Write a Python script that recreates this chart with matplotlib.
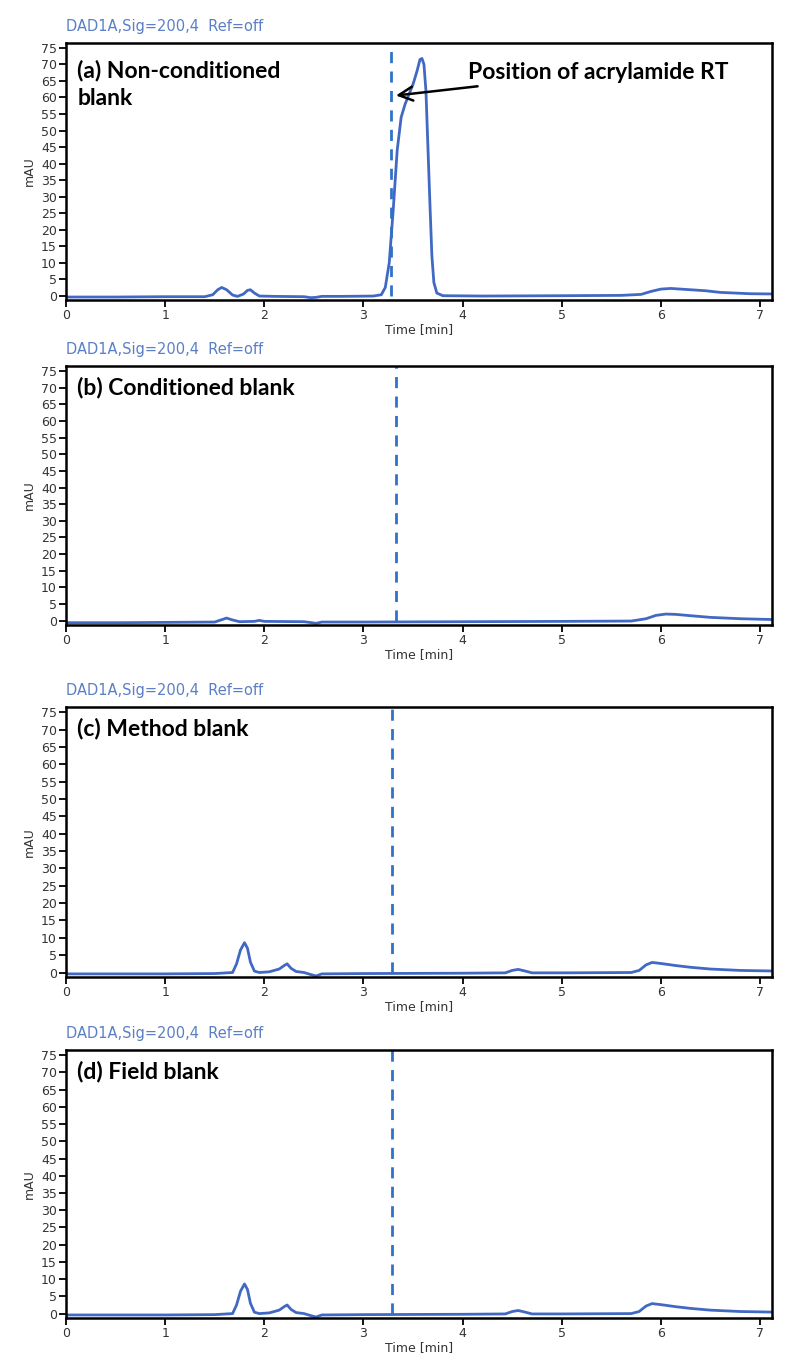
import matplotlib.pyplot as plt

# chromatogram traces (time in min, signal in mAU)
t_a = [0.0, 0.5, 1.0, 1.4, 1.48, 1.53, 1.57, 1.62, 1.68, 1.73, 1.79, 1.83, 1.86, 1.90, 1.95,
       2.1, 2.4, 2.47, 2.52, 2.58, 2.8, 3.1, 3.18, 3.22, 3.26, 3.30, 3.34, 3.38, 3.42, 3.46,
       3.50, 3.54, 3.57, 3.59, 3.61, 3.63, 3.65, 3.67, 3.69, 3.71, 3.74, 3.80, 4.2, 5.0, 5.6,
       5.8, 5.9, 6.0, 6.1, 6.2, 6.3, 6.45, 6.6, 6.9, 7.2]
y_a = [-0.4, -0.4, -0.3, -0.3, 0.3, 1.8, 2.5, 1.8, 0.2, -0.2, 0.5, 1.6, 1.8, 0.8, -0.1,
       -0.2, -0.3, -0.6, -0.5, -0.2, -0.2, -0.1, 0.3, 2.5, 10.0, 26.0, 44.0, 54.0, 58.0, 61.0,
       64.0, 68.0, 71.5, 71.8, 70.0, 62.0, 45.0, 28.0, 12.0, 4.0, 0.8, 0.0, -0.1, 0.0, 0.1,
       0.4, 1.3, 2.0, 2.2, 2.0, 1.8, 1.5, 1.0, 0.6, 0.5]

t_b = [0.0, 0.5, 1.0, 1.5, 1.57, 1.62, 1.67, 1.75, 1.9, 1.95, 2.0, 2.4, 2.48, 2.52, 2.58,
       3.0, 4.0, 5.0, 5.7, 5.85, 5.95, 6.05, 6.15, 6.3, 6.5, 6.8, 7.2]
y_b = [-0.6, -0.6, -0.5, -0.4, 0.3, 0.8, 0.3, -0.3, -0.2, 0.1, -0.2, -0.3, -0.6, -0.8, -0.4,
       -0.4, -0.3, -0.2, -0.1, 0.6, 1.6, 2.0, 1.9, 1.5, 1.0, 0.6, 0.3]

t_c = [0.0, 0.5, 1.0, 1.5, 1.68, 1.72, 1.76, 1.80, 1.83, 1.86, 1.90, 1.95, 2.05, 2.15, 2.20,
       2.23, 2.27, 2.32, 2.40, 2.47, 2.52, 2.58, 3.0, 4.0, 4.43, 4.50, 4.56, 4.62, 4.70, 5.0,
       5.7, 5.78, 5.85, 5.91, 6.0, 6.15, 6.3, 6.5, 6.8, 7.2]
y_c = [-0.4, -0.4, -0.4, -0.3, 0.0, 2.5, 6.5, 8.6, 7.0, 3.0, 0.4, 0.0, 0.2, 1.0, 2.0,
       2.5, 1.2, 0.3, 0.0, -0.6, -1.0, -0.4, -0.3, -0.2, -0.1, 0.6, 0.9, 0.5, -0.1, -0.1,
       0.0, 0.6, 2.2, 2.9, 2.6, 2.0, 1.5, 1.0, 0.6, 0.4]

t_d = [0.0, 0.5, 1.0, 1.5, 1.68, 1.72, 1.76, 1.80, 1.83, 1.86, 1.90, 1.95, 2.05, 2.15, 2.20,
       2.23, 2.27, 2.32, 2.40, 2.47, 2.52, 2.58, 3.0, 4.0, 4.43, 4.50, 4.56, 4.62, 4.70, 5.0,
       5.7, 5.78, 5.85, 5.91, 6.0, 6.15, 6.3, 6.5, 6.8, 7.2]
y_d = [-0.4, -0.4, -0.4, -0.3, 0.0, 2.5, 6.5, 8.6, 7.0, 3.0, 0.4, 0.0, 0.2, 1.0, 2.0,
       2.5, 1.2, 0.3, 0.0, -0.6, -1.0, -0.4, -0.3, -0.2, -0.1, 0.6, 0.9, 0.5, -0.1, -0.1,
       0.0, 0.6, 2.2, 2.9, 2.6, 2.0, 1.5, 1.0, 0.6, 0.4]

labels = ['(a) Non-conditioned\nblank', '(b) Conditioned blank', '(c) Method blank', '(d) Field blank']
label_y = [0.935, 0.96, 0.96, 0.96]
rt_lines = [3.28, 3.33, 3.29, 3.29]
header = 'DAD1A,Sig=200,4  Ref=off'

traces = [(t_a, y_a), (t_b, y_b), (t_c, y_c), (t_d, y_d)]
# axes boxes in figure fraction [left, bottom, width, height]
boxes = [[0.0825, 0.7807, 0.8825, 0.1879],
         [0.0825, 0.5431, 0.8825, 0.1893],
         [0.0825, 0.2858, 0.8825, 0.1974],
         [0.0825, 0.0365, 0.8825, 0.1959]]

line_col = '#4169c4'
dash_col = '#2f72c8'
title_font = ['Lato', 'DejaVu Sans']

plt.rcParams['font.family'] = ['DejaVu Sans']
fig = plt.figure(figsize=(8, 13.68), dpi=100)

for i, (t, y) in enumerate(traces):
    ax = fig.add_axes(boxes[i])
    ax.plot(t, y, color=line_col, lw=2.0, solid_joinstyle='round')
    ax.vlines(rt_lines[i], 0, 76.5, colors=dash_col, linestyles=(0, (4, 3)), lw=2.0)
    ax.set_xlim(0, 7.12)
    ax.set_ylim(-1.3, 76.5)
    ax.set_xticks(range(8))
    ax.set_yticks(range(0, 80, 5))
    ax.tick_params(labelsize=9, length=5, width=1.3, pad=1.5, labelcolor='#333333')
    for s in ax.spines.values():
        s.set_linewidth(1.8)
    ax.set_xlabel('Time [min]', fontsize=9, labelpad=1, color='#333333')
    ax.set_ylabel('mAU', fontsize=9, labelpad=4, color='#333333')
    ax.text(0.016, label_y[i], labels[i], transform=ax.transAxes, ha='left', va='top',
            fontsize=16.5, fontweight='bold', family=title_font,
            linespacing=1.4)
    ax.text(0.0, 1.035, header, transform=ax.transAxes, ha='left', va='bottom',
            fontsize=10.5, color='#5b7fc7')
    if i == 0:
        ax.annotate('Position of acrylamide RT', xy=(3.30, 60.5), xytext=(4.05, 67.5),
                    fontsize=16.5, fontweight='bold', family=title_font,
                    va='center', ha='left',
                    arrowprops=dict(arrowstyle='->', color='black', lw=1.8,
                                    mutation_scale=25))

fig.savefig('out.png', dpi=100)
